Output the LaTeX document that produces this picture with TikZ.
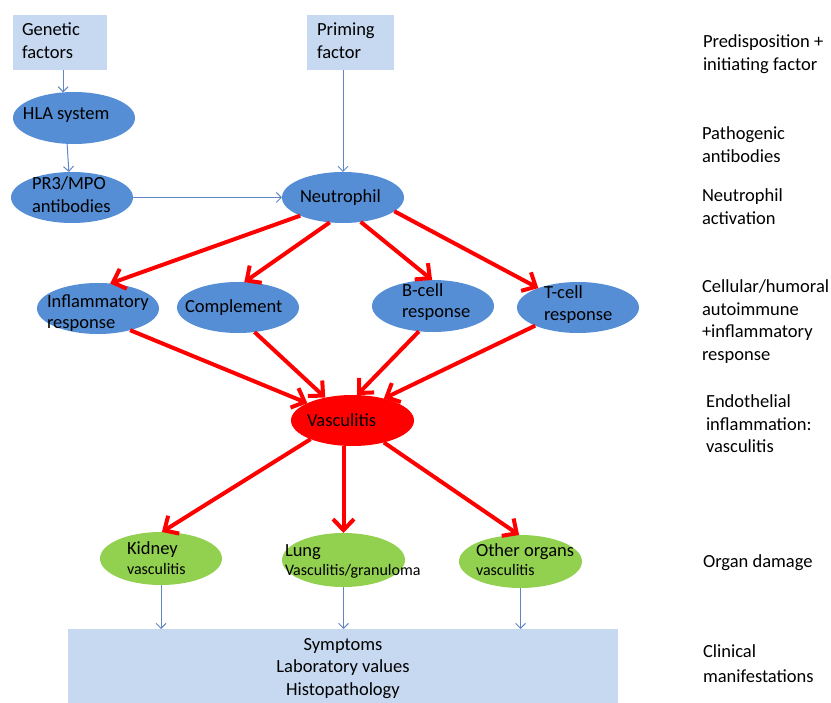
\documentclass[tikz,border=0pt]{standalone}
\usepackage{fontspec}
\setmainfont{Carlito}
\usetikzlibrary{shapes.geometric,arrows.meta}
\definecolor{ellblue}{RGB}{85,142,213}
\definecolor{boxblue}{RGB}{198,217,241}
\definecolor{orggreen}{RGB}{146,208,80}
\definecolor{linkblue}{RGB}{95,135,195}
\begin{document}
\begin{tikzpicture}[x=1pt,y=-1pt,
  every node/.style={inner sep=0pt, outer sep=0pt},
  ell/.style={ellipse, minimum width=122pt, minimum height=51pt},
  blueell/.style={ell, fill=ellblue},
  redell/.style={ell, fill=red},
  greenell/.style={ell, fill=orggreen, minimum height=53pt},
  lbox/.style={rectangle, fill=boxblue},
  txt/.style={font=\fontsize{18.5}{22.5}\selectfont, align=left, anchor=north west, text=black},
  ctxt/.style={txt, align=center, anchor=north},
  redarrow/.style={draw=red, line width=4pt, -{Straight Barb[length=11pt,width=21pt]}},
  bluearrow/.style={draw=linkblue, line width=1pt, -{Straight Barb[length=5pt,width=10pt]}}]
\useasboundingbox (0,0) rectangle (831,703);
\newcommand{\smalltxt}{\fontsize{16}{20}\selectfont}

% boxes
\node[lbox, minimum width=94pt, minimum height=55pt] (gen) at (60,42.5) {};
\node[lbox, minimum width=87pt, minimum height=55pt] (prim) at (350.5,42.5) {};
\node[lbox, minimum width=550pt, minimum height=76pt] (sym) at (343,667) {};

% ellipses
\node[blueell, minimum height=52pt] (hla) at (74,118) {};
\node[blueell] (pr3) at (72,197.5) {};
\node[blueell] (neu) at (343,197.5) {};
\node[blueell] (infl) at (98,308.5) {};
\node[blueell] (comp) at (238,307.5) {};
\node[blueell, minimum height=52pt] (bcell) at (433,306) {};
\node[blueell] (tcell) at (578,307.5) {};
\node[redell, minimum width=123pt] (vasc) at (352.5,420.5) {};
\node[greenell] (kid) at (161,558.5) {};
\node[greenell, minimum width=123pt, minimum height=54pt] (lung) at (343.5,560) {};
\node[greenell, minimum width=123pt] (oth) at (520.5,561.5) {};

% texts in shapes
\node[txt] (gen-t) at (22,20.25) {\strut Genetic\\factors};
\node[txt] (prim-t) at (317,20.25) {\strut Priming\\factor};
\node[txt] (hla-t) at (23,104.25) {\strut HLA system};
\node[txt] (pr3-t) at (32,174.25) {\strut PR3/MPO\\antibodies};
\node[txt] (neu-t) at (300,187.25) {\strut Neutrophil};
\node[txt] (infl-t) at (47,292.25) {\strut Inflammatory\\[-1.5pt]response};
\node[txt] (comp-t) at (185,297.25) {\strut Complement};
\node[txt] (bcell-t) at (402,281.25) {\strut B-cell\\[-1.5pt]response};
\node[txt] (tcell-t) at (544,283.25) {\strut T-cell\\[-1pt]response};
\node[txt] (vasc-t) at (307,411.25) {\strut Vasculitis};
\node[txt] (kid-t) at (127,538.25) {\strut Kidney\\[-2.5pt]{\smalltxt vasculitis}};
\node[txt] (lung-t) at (285,540.25) {\strut Lung\\[-2.5pt]{\smalltxt Vasculitis/granuloma}};
\node[txt] (oth-t) at (476,541.25) {\strut Other organs\\[-3.5pt]{\smalltxt vasculitis}};
\node[ctxt] (sym-t) at (343,634.25) {\strut Symptoms\\Laboratory values\\Histopathology};

% right-hand level labels
\node[txt] (l1) at (703,32.25) {\strut Predisposition +\\initiating factor};
\node[txt] (l2) at (702,124.25) {\strut Pathogenic\\antibodies};
\node[txt] (l3) at (702,186.25) {\strut Neutrophil\\activation};
\node[txt] (l4) at (702,277.25) {\strut Cellular/humoral\\autoimmune\\+inflammatory\\response};
\node[txt] (l5) at (706,392.25) {\strut Endothelial\\inflammation:\\vasculitis};
\node[txt] (l6) at (703,551.25) {\strut Organ damage};
\node[txt] (l7) at (703,641.25) {\strut Clinical\\[3pt]manifestations};

% thin blue connectors
\draw[bluearrow] (hla.113 |- gen.south) -- (hla.113);
\draw[bluearrow] (hla.255) -- (pr3.97);
\draw[bluearrow] (pr3.east) -- (neu.west);
\draw[bluearrow] (prim.south -| neu.north) -- (neu.north);
\draw[bluearrow] (kid.south) -- (kid.south |- sym.north);
\draw[bluearrow] (lung.south) -- (lung.south |- sym.north);
\draw[bluearrow] (oth.south) -- (oth.south |- sym.north);

% red connectors
\draw[redarrow] (neu.203) -- (infl.64);
\draw[redarrow] (neu.242) -- (comp.76);
\draw[redarrow] (neu.306) -- (bcell.92);
\draw[redarrow] (neu.345) -- (tcell.154.5);
\draw[redarrow] (infl.326) -- (vasc.159.5);
\draw[redarrow] (comp.304) -- (vasc.140);
\draw[redarrow] (bcell.241) -- (vasc.80);
\draw[redarrow] (tcell.203) -- (vasc.35.4);
\draw[redarrow] (vasc.204) -- (kid.88);
\draw[redarrow] (vasc.south -| lung.north) -- (lung.north);
\draw[redarrow] (vasc.325) -- (oth.93);
\end{tikzpicture}
\end{document}
